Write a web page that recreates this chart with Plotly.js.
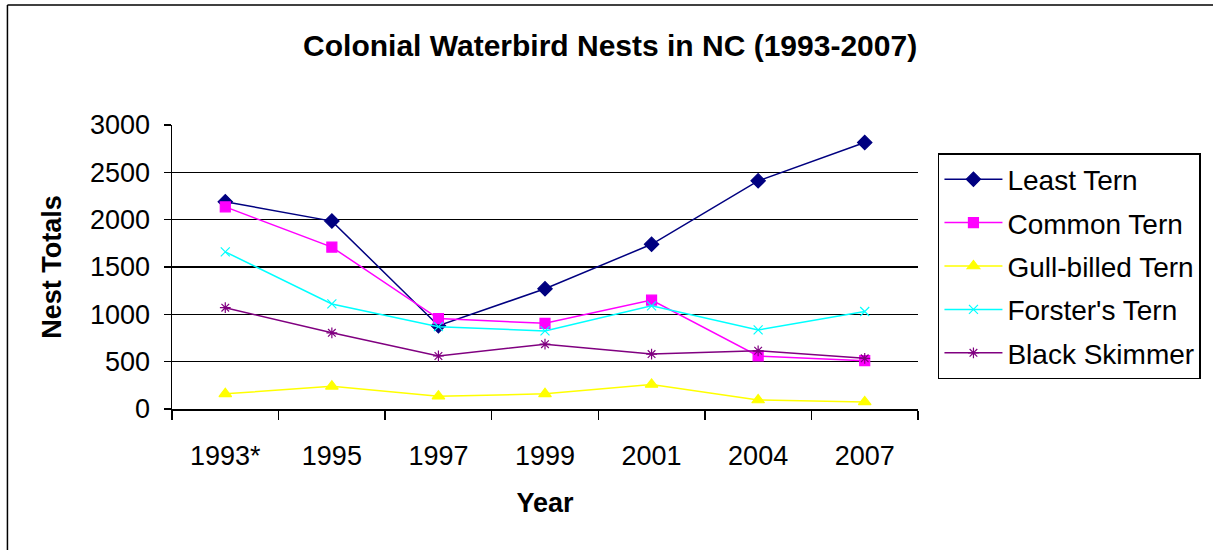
<!DOCTYPE html>
<html><head><meta charset="utf-8">
<script src="https://cdn.plot.ly/plotly-3.0.1.min.js"></script>
<style>html,body{margin:0;padding:0;background:#fff}#chart{width:1213px;height:550px}</style>
</head><body><div id="chart"></div>
<script>
const years = ["1993*", "1995", "1997", "1999", "2001", "2004", "2007"];
const leastTern = [2190, 1985, 880, 1270, 1740, 2410, 2815];
const commonTern = [2135, 1710, 955, 905, 1150, 560, 510];
const gullBilledTern = [160, 240, 135, 160, 260, 95, 75];
const forstersTern = [1660, 1110, 870, 825, 1090, 835, 1030];
const blackSkimmer = [1070, 805, 560, 685, 580, 615, 535];
const yTicks = [0, 500, 1000, 1500, 2000, 2500, 3000];

const F = '"Liberation Sans", Arial, sans-serif';
function tr(name, y, color, symbol, size, g) {
  return {x: years, y: y, name: name, type: 'scatter', mode: 'lines+markers',
    legendgroup: g,
    line: {color: color, width: 1.5},
    marker: {color: color, symbol: symbol, size: size, line: {color: color, width: 1.2}}};
}
const data = [
  tr('Least Tern', leastTern, '#000080', 'diamond', 11, 'a'),
  tr('Common Tern', commonTern, '#FF00FF', 'square', 10, 'b'),
  tr('Gull-billed Tern', gullBilledTern, '#FFFF00', 'triangle-up', 11, 'c'),
  tr("Forster's Tern", forstersTern, '#00FFFF', 'x-thin', 9, 'd'),
  tr('Black Skimmer', blackSkimmer, '#800080', 'asterisk', 9, 'e')
];
const px = v => (v - 172) / 748;
const py = v => (409 - v) / 284;
const layout = {
  width: 1213, height: 550,
  margin: {l: 172, r: 293, t: 125, b: 141},
  paper_bgcolor: '#fff', plot_bgcolor: '#fff',
  font: {family: F, color: '#000'},
  showlegend: true,
  title: {text: 'Colonial Waterbird Nests in NC (1993-2007)', font: {family: F, size: 30, color: '#000', weight: 'bold'},
    x: 0.503, xanchor: 'center', y: 0.918, yanchor: 'middle'},
  xaxis: {type: 'category', showline: true, linecolor: '#000', linewidth: 1.5,
    ticks: 'outside', tickson: 'boundaries', ticklen: 9, tickcolor: '#000', tickwidth: 1.5,
    showgrid: false, zeroline: false, range: [-0.5, 6.5],
    tickfont: {family: F, size: 27, color: '#000'}, ticklabelstandoff: 22,
    title: {text: 'Year', font: {family: F, size: 27, color: '#000', weight: 'bold'}, standoff: 23}},
  yaxis: {range: [0, 3000], tickvals: yTicks, ticktext: yTicks.map(String),
    showline: true, linecolor: '#000', linewidth: 1.5, mirror: false,
    ticks: 'outside', ticklen: 7, tickcolor: '#000', tickwidth: 1.5,
    showgrid: true, gridcolor: '#000', gridwidth: 1.6, zeroline: false,
    tickfont: {family: F, size: 27, color: '#000'}, ticklabelstandoff: 8,
    title: {text: 'Nest Totals', font: {family: F, size: 27, color: '#000', weight: 'bold'}, standoff: 20}},
  legend: {x: px(940), xanchor: 'left', y: py(153), yanchor: 'top',
    bordercolor: '#000', borderwidth: 1.5, bgcolor: '#fff',
    font: {family: F, size: 28, color: '#000'},
    traceorder: 'grouped', tracegroupgap: 4, itemwidth: 58},
  shapes: [
    {type: 'line', xref: 'paper', yref: 'paper', x0: px(7), x1: px(1230), y0: py(5), y1: py(5), line: {color: '#000', width: 1.5}},
    {type: 'line', xref: 'paper', yref: 'paper', x0: px(7), x1: px(7), y0: py(5), y1: py(560), line: {color: '#000', width: 1.5}}
  ]
};
Plotly.newPlot('chart', data, layout, {displayModeBar: false, staticPlot: true});
</script></body></html>
